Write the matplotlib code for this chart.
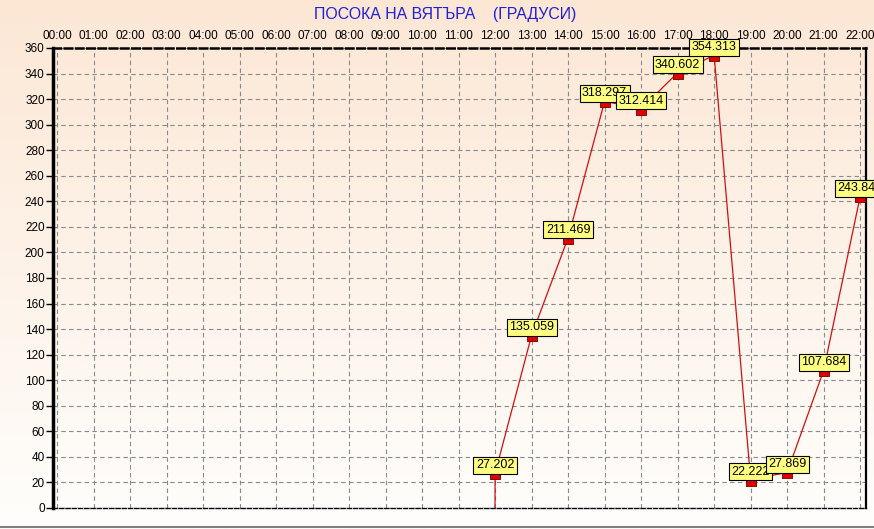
import numpy as np
import matplotlib
matplotlib.use('Agg')
import matplotlib.pyplot as plt

# wind direction readings (degrees); 11:00 is a missing-value sentinel that
# the original chart draws as a line running off the bottom of the plot
hours = [11, 12, 13, 14, 15, 16, 17, 18, 19, 20, 21, 22]
direction = [-9999.0, 27.202, 135.059, 211.469, 318.297, 312.414, 340.602,
             354.313, 22.222, 27.869, 107.684, 243.844]
tick_hours = list(range(0, 23))
tick_labels = [f'{h:02d}:00' for h in tick_hours]
y_ticks = list(range(0, 361, 20))
title = 'ПОСОКА НА ВЯТЪРА    (ГРАДУСИ)'

plt.rcParams['font.family'] = ['Liberation Sans', 'DejaVu Sans']

fig = plt.figure(figsize=(8.74, 5.29), dpi=100)

# peach -> white vertical gradient behind everything
bg = fig.add_axes([0, 0, 1, 1], zorder=-10)
top_c = np.array([252, 231, 213]) / 255
bot_c = np.array([255, 254, 252]) / 255
t = np.linspace(0, 1, 256)[:, None]
grad = top_c[None, :] * (1 - t) + bot_c[None, :] * t
bg.imshow(grad[:, None, :], aspect='auto', extent=[0, 1, 0, 1])
bg.axis('off')
bg.plot([0, 1], [0.003, 0.003], color='#808080', lw=1.5, transform=bg.transAxes)

ax = fig.add_axes([53 / 874, 1 - 508 / 529, (866 - 53) / 874, (508 - 48) / 529])
ax.set_facecolor('none')

ax.plot(hours, direction, color='#d01010', lw=0.9, zorder=3)
# small rectangle hanging just below the data point
rect = [(-1, -1.1), (1, -1.1), (1, 0), (-1, 0), (-1, -1.1)]
h_ok = [h for h, v in zip(hours, direction) if v >= 0]
v_ok = [v for v in direction if v >= 0]
ax.plot(h_ok, v_ok, ls='none', marker=rect, ms=8.5, mfc='#e00000', mec='#700000',
        mew=0.6, zorder=4)
for h, v in zip(h_ok, v_ok):
    ax.annotate(f'{v:.3f}', (h, v), xytext=(0, 1.5), textcoords='offset points',
                ha='center', va='bottom', fontsize=9, zorder=5, annotation_clip=False,
                bbox=dict(boxstyle='square,pad=0.2', fc='#ffff80', ec='black', lw=0.8))

ax.set_xlim(-0.11, 22.16)
ax.set_ylim(0, 360)
ax.set_xticks(tick_hours)
ax.set_xticklabels(tick_labels)
ax.set_yticks(y_ticks)
ax.xaxis.tick_top()
ax.tick_params(axis='x', length=0, pad=4, labelsize=8.5)
ax.tick_params(axis='y', length=5, width=1, pad=1, labelsize=8.5, direction='out')
ax.grid(True, color='#8a8a8a', ls=(0, (4, 3)), lw=0.8)

ax.spines['left'].set_linewidth(2.5)
ax.spines['right'].set_linewidth(1.6)
ax.spines['top'].set_linewidth(1.8)
ax.spines['top'].set_linestyle((0, (3, 1.5)))
ax.spines['bottom'].set_linewidth(1.0)
ax.spines['bottom'].set_linestyle((0, (3, 1.5)))
for s in ax.spines.values():
    s.set_color('black')

fig.text(445 / 874, 1 - 15 / 529, title, ha='center', va='center',
         fontsize=11.4, color='#2020d8')

fig.savefig('out.png', dpi=100)
